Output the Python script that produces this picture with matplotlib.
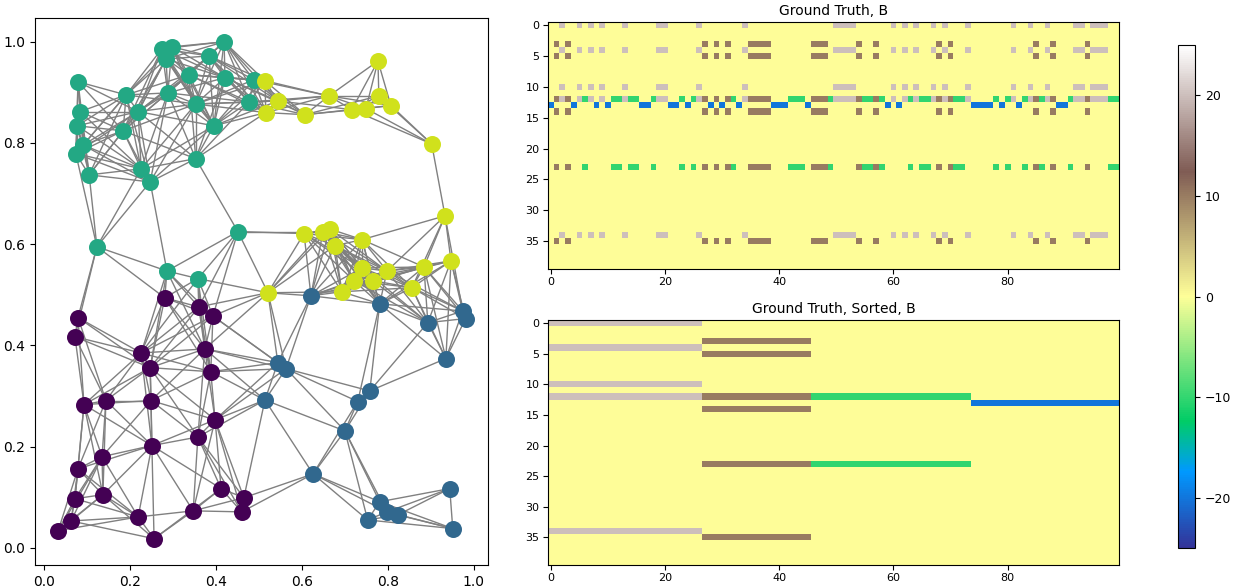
import numpy as np
import matplotlib
matplotlib.use("Agg")
import matplotlib.pyplot as plt
from matplotlib.collections import LineCollection

# ---------------- graph data ----------------
purple_x = [0.281, 0.360, 0.393, 0.079, 0.072, 0.226, 0.247, 0.374, 0.388, 0.093, 0.144, 0.249, 0.398, 0.358,
            0.251, 0.135, 0.079, 0.072, 0.137, 0.063, 0.033, 0.219, 0.256, 0.347, 0.412, 0.465, 0.460]
purple_y = [0.494, 0.476, 0.458, 0.455, 0.417, 0.385, 0.356, 0.393, 0.348, 0.283, 0.291, 0.291, 0.253, 0.219,
            0.202, 0.180, 0.156, 0.097, 0.105, 0.053, 0.034, 0.061, 0.018, 0.073, 0.117, 0.099, 0.071]

blue_x = [0.621, 0.781, 0.974, 0.981, 0.893, 0.935, 0.544, 0.563, 0.514, 0.758, 0.730, 0.700, 0.626, 0.781,
          0.798, 0.823, 0.753, 0.944, 0.951]
blue_y = [0.498, 0.482, 0.468, 0.453, 0.445, 0.374, 0.366, 0.354, 0.292, 0.310, 0.289, 0.231, 0.146, 0.091,
          0.071, 0.065, 0.055, 0.117, 0.038]

green_x = [0.079, 0.274, 0.298, 0.284, 0.419, 0.384, 0.337, 0.421, 0.488, 0.191, 0.288, 0.353, 0.477, 0.084,
           0.219, 0.077, 0.184, 0.395, 0.091, 0.074, 0.105, 0.226, 0.247, 0.353, 0.123, 0.451, 0.286, 0.358]
green_y = [0.921, 0.986, 0.990, 0.966, 1.000, 0.972, 0.935, 0.929, 0.925, 0.895, 0.899, 0.877, 0.881, 0.862,
           0.862, 0.834, 0.824, 0.834, 0.796, 0.779, 0.737, 0.749, 0.723, 0.769, 0.595, 0.625, 0.547, 0.532]

yellow_x = [0.514, 0.544, 0.516, 0.607, 0.663, 0.777, 0.779, 0.807, 0.716, 0.749, 0.902, 0.933, 0.605, 0.649,
            0.665, 0.677, 0.740, 0.740, 0.798, 0.721, 0.765, 0.884, 0.947, 0.856, 0.521, 0.693]
yellow_y = [0.923, 0.883, 0.860, 0.856, 0.893, 0.962, 0.893, 0.874, 0.866, 0.868, 0.798, 0.656, 0.621, 0.625,
            0.630, 0.597, 0.609, 0.553, 0.547, 0.528, 0.528, 0.555, 0.567, 0.514, 0.504, 0.506]

node_colors = ['#440154', '#31688e', '#23a884', '#d0e11c']
edge_radius = 0.2

# ---------------- heatmap data ----------------
col_labels = [3, 1, 0, 1, 3, 0, 2, 0, 3, 0, 3, 2, 2, 0, 2, 2, 3, 3, 2, 0,
              0, 3, 3, 2, 3, 2, 0, 1, 3, 1, 3, 1, 2, 3, 0, 1, 1, 1, 1, 3,
              3, 3, 2, 2, 2, 3, 1, 1, 1, 2, 0, 0, 0, 0, 1, 2, 2, 1, 2, 3,
              0, 3, 0, 2, 0, 2, 2, 0, 1, 0, 1, 2, 2, 0, 3, 3, 3, 3, 2, 3,
              2, 0, 3, 2, 0, 1, 2, 0, 1, 3, 3, 2, 0, 0, 1, 0, 0, 0, 2, 2]
n_rows = 40
cluster_rows = [[0, 4, 10, 12, 34], [3, 5, 12, 14, 23, 35], [12, 23], [13]]
cluster_values = [20, 10, -10, -20]

# ---------------- build ----------------
W = np.zeros((n_rows, 4))
for k, (rows, v) in enumerate(zip(cluster_rows, cluster_values)):
    W[rows, k] = v
labels = np.array(col_labels)
B = W[:, labels]
B_sorted = W[:, np.sort(labels)]

xs = [purple_x, blue_x, green_x, yellow_x]
ys = [purple_y, blue_y, green_y, yellow_y]
all_x = np.concatenate([np.array(a) for a in xs])
all_y = np.concatenate([np.array(a) for a in ys])
pts = np.column_stack([all_x, all_y])

segs = []
n = len(pts)
for i in range(n):
    for j in range(i + 1, n):
        if np.hypot(*(pts[i] - pts[j])) <= edge_radius:
            segs.append([pts[i], pts[j]])

W_px, H_px = 1233, 588
fig = plt.figure(figsize=(W_px / 100, H_px / 100), dpi=100)

def rect(x0, y0, x1, y1):
    return [x0 / W_px, 1 - y1 / H_px, (x1 - x0) / W_px, (y1 - y0) / H_px]

ax0 = fig.add_axes(rect(35, 18, 488, 565))
lc = LineCollection(segs, colors='#808080', linewidths=1.0, zorder=1)
ax0.add_collection(lc)
for cx, cy, c in zip(xs, ys, node_colors):
    ax0.scatter(cx, cy, s=150, c=c, zorder=2, linewidths=0)
ax0.set_xlim(-0.021, 1.033)
ax0.set_ylim(-0.034, 1.047)
ax0.set_xticks([0.0, 0.2, 0.4, 0.6, 0.8, 1.0])
ax0.set_yticks([0.0, 0.2, 0.4, 0.6, 0.8, 1.0])
ax0.tick_params(labelsize=10)

cmap = 'terrain'
ax1 = fig.add_axes(rect(548, 22, 1119, 269))
im = ax1.imshow(B, cmap=cmap, vmin=-25, vmax=25, aspect='auto', interpolation='nearest')
ax1.set_title('Ground Truth, B', fontsize=10, pad=5)
ax1.tick_params(labelsize=8, pad=2.5)
ax1.set_xticks([0, 20, 40, 60, 80])

ax2 = fig.add_axes(rect(548, 320, 1119, 565))
ax2.imshow(B_sorted, cmap=cmap, vmin=-25, vmax=25, aspect='auto', interpolation='nearest')
ax2.set_title('Ground Truth, Sorted, B', fontsize=10, pad=5)
ax2.tick_params(labelsize=8, pad=2.5)
ax2.set_xticks([0, 20, 40, 60, 80])

cax = fig.add_axes(rect(1178, 45, 1195, 548))
cb = fig.colorbar(im, cax=cax)
cb.set_ticks([-20, -10, 0, 10, 20])
cax.tick_params(labelsize=9)

fig.savefig('out.png', dpi=100)
